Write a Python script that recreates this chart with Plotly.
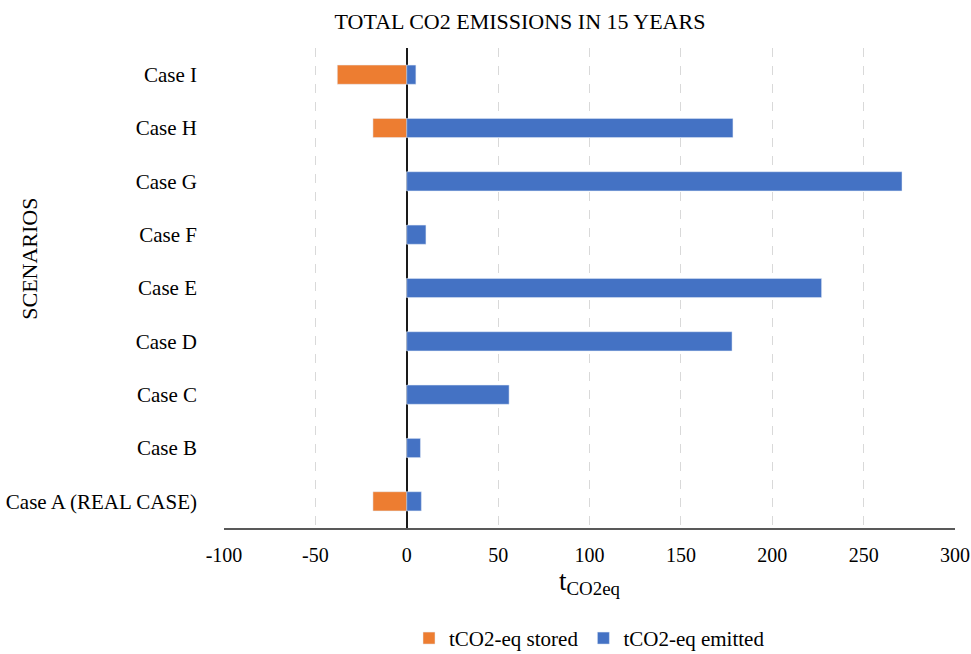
import plotly.graph_objects as go

# Scenario categories (bottom to top) and totals in tCO2-eq over 15 years
cases = ["Case A (REAL CASE)", "Case B", "Case C", "Case D", "Case E",
         "Case F", "Case G", "Case H", "Case I"]
stored = [-18.5, 0, 0, 0, 0, 0, 0, -18.5, -38]
emitted = [8, 7.5, 56, 178, 227, 10.5, 271, 178.5, 5]
x_ticks = [-100, -50, 0, 50, 100, 150, 200, 250, 300]

FONT = "Liberation Serif, Times New Roman, serif"

fig = go.Figure()
fig.add_trace(go.Bar(
    y=cases, x=stored, orientation="h", name="tCO2-eq stored",
    marker=dict(color="#ED7D31"),
))
fig.add_trace(go.Bar(
    y=cases, x=emitted, orientation="h", name="tCO2-eq emitted",
    marker=dict(color="#4472C4"),
))

fig.update_layout(
    width=971, height=654,
    barmode="relative", bargap=0.64,
    plot_bgcolor="white", paper_bgcolor="white",
    margin=dict(l=224, r=16, t=48, b=126, autoexpand=False),
    font=dict(family=FONT, size=20, color="black"),
    title=dict(text="TOTAL CO2 EMISSIONS IN 15 YEARS", x=0.5355,
               xanchor="center", y=0.968, yanchor="middle",
               font=dict(size=22, family=FONT)),
    legend=dict(orientation="h", x=0.5, xanchor="center", y=-0.23,
                yanchor="middle", font=dict(size=21, family=FONT),
                traceorder="normal", itemwidth=30,
                tracegroupgap=0, bgcolor="rgba(0,0,0,0)"),
    showlegend=True,
)

fig.update_xaxes(
    range=[-100, 300], tickvals=x_ticks,
    ticktext=[str(v) for v in x_ticks],
    showgrid=True, gridcolor="#d9d9d9", griddash="dash", gridwidth=1,
    zeroline=True, zerolinecolor="#1a1a1a", zerolinewidth=1.5,
    showline=True, linecolor="#595959", linewidth=1.5,
    ticks="", ticklabelstandoff=8, automargin=False,
    ticklabeloverflow="allow",
    tickfont=dict(size=20, family=FONT),
    title=dict(text="t<sub>CO2eq</sub>", font=dict(size=27, family=FONT),
               standoff=3),
)
fig.update_yaxes(
    categoryorder="array", categoryarray=cases,
    showgrid=False, zeroline=False, showline=False,
    ticks="", ticklabelstandoff=26, automargin=False,
    tickfont=dict(size=21, family=FONT),
)

# Vertical axis title
fig.add_annotation(
    text="SCENARIOS", textangle=-90, xref="paper", yref="paper",
    x=-0.266, y=0.56, xanchor="center", yanchor="middle", showarrow=False,
    font=dict(size=22, family=FONT),
)

fig.write_html("out.html")
